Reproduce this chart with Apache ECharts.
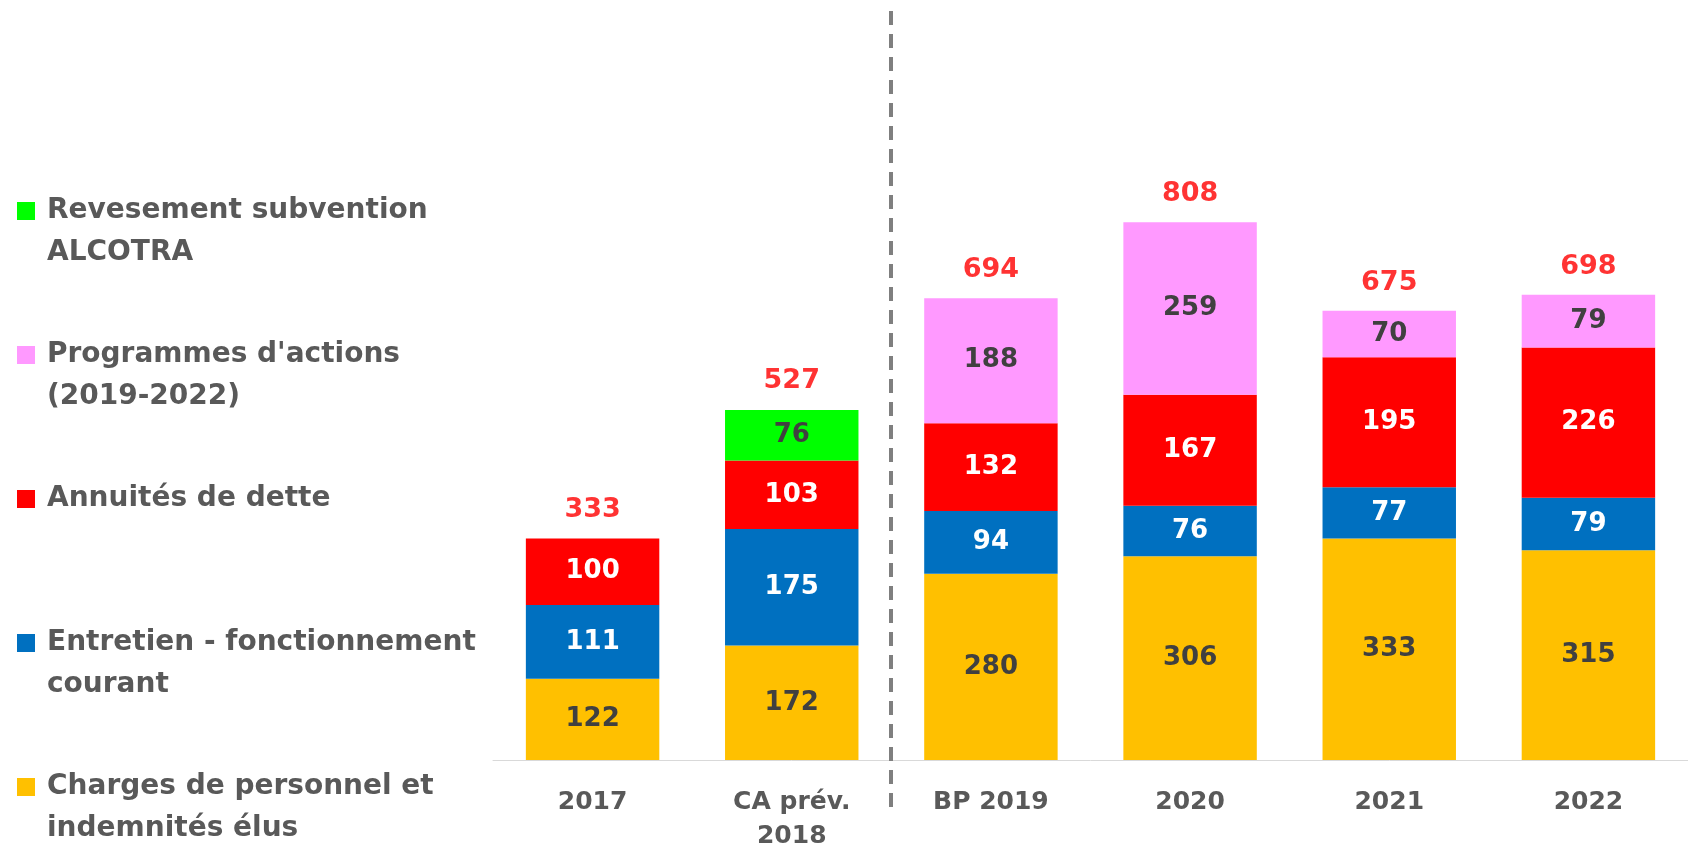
<!DOCTYPE html>
<html>
<head>
<meta charset="utf-8">
<script src="https://cdn.jsdelivr.net/npm/echarts@6/dist/echarts.min.js"></script>
<style>
  html, body { margin: 0; padding: 0; background: #fff; }
  #chart { width: 1688px; height: 853px; }
</style>
</head>
<body>
<div id="chart"></div>
<script>
// categories and values
const categories = ['2017', 'CA prév.\n2018', 'BP 2019', '2020', '2021', '2022']
const charges = [122, 172, 280, 306, 333, 315]
const entretien = [111, 175, 94, 76, 77, 79]
const annuites = [100, 103, 132, 167, 195, 226]
const programmes = [null, null, 188, 259, 70, 79]
const revesement = [null, 76, null, null, null, null]
const totals = [333, 527, 694, 808, 675, 698]

const names = {
  charges: 'Charges de personnel et indemnités élus',
  entretien: 'Entretien - fonctionnement courant',
  annuites: 'Annuités de dette',
  programmes: "Programmes d'actions (2019-2022)",
  revesement: 'Revesement subvention ALCOTRA'
}
// legend text, blank first line keeps the square next to the first line
const legendText = {}
legendText[names.revesement] = ' \nRevesement subvention\nALCOTRA'
legendText[names.programmes] = " \nProgrammes d'actions\n(2019-2022)"
legendText[names.annuites] = ' \nAnnuités de dette\n '
legendText[names.entretien] = ' \nEntretien - fonctionnement\ncourant'
legendText[names.charges] = ' \nCharges de personnel et\nindemnités élus'

const FONT = 'DejaVu Sans'

function barSeries (name, data, color, labelColor) {
  return {
    name: name,
    type: 'bar',
    stack: 'total',
    barWidth: '67%',
    data: data,
    itemStyle: { color: color },
    label: {
      show: true,
      position: 'inside',
      color: labelColor,
      fontFamily: FONT,
      fontWeight: 'bold',
      fontSize: 26
    }
  }
}

const chart = echarts.init(document.getElementById('chart'))
chart.setOption({
  animation: false,
  backgroundColor: '#ffffff',
  grid: { left: 493, right: 0, top: 0, bottom: 91 },
  legend: {
    orient: 'vertical',
    left: 12,
    top: 143,
    height: 780,
    itemWidth: 18,
    itemHeight: 18,
    itemGap: 18,
    icon: 'rect',
    selectedMode: false,
    data: [names.revesement, names.programmes, names.annuites, names.entretien, names.charges],
    formatter: function (name) { return legendText[name] },
    textStyle: {
      fontFamily: FONT,
      fontWeight: 'bold',
      fontSize: 28,
      lineHeight: 42,
      color: '#595959',
      padding: [0, 0, 0, 7]
    }
  },
  xAxis: {
    type: 'category',
    data: categories,
    axisTick: { show: false },
    axisLine: { lineStyle: { color: '#D9D9D9', width: 1 } },
    axisLabel: {
      interval: 0,
      margin: 25,
      color: '#595959',
      fontFamily: FONT,
      fontWeight: 'bold',
      fontSize: 25,
      lineHeight: 34
    }
  },
  yAxis: {
    type: 'value',
    min: 0,
    max: 1142,
    show: false,
    splitLine: { show: false }
  },
  series: [
    barSeries(names.charges, charges, '#FFC000', '#404040'),
    barSeries(names.entretien, entretien, '#0070C0', '#ffffff'),
    barSeries(names.annuites, annuites, '#FF0000', '#ffffff'),
    barSeries(names.programmes, programmes, '#FF99FF', '#404040'),
    barSeries(names.revesement, revesement, '#00FF00', '#404040'),
    {
      name: 'Total',
      type: 'scatter',
      data: totals,
      symbolSize: 1,
      itemStyle: { color: 'rgba(0,0,0,0)' },
      label: {
        show: true,
        position: 'top',
        distance: 14,
        color: '#FF0000',
        fontFamily: FONT,
        fontWeight: 'bold',
        fontSize: 27
      }
    }
  ]
})

// dashed separator between realised years and forecasts
const xa = chart.convertToPixel({ xAxisIndex: 0 }, categories[1])
const xb = chart.convertToPixel({ xAxisIndex: 0 }, categories[2])
const sepX = Math.round((xa + xb) / 2)
chart.setOption({
  graphic: [{
    type: 'line',
    shape: { x1: sepX, y1: 11, x2: sepX, y2: 815 },
    style: { stroke: '#7F7F7F', lineWidth: 4, lineDash: [14, 9] },
    z: 10
  }]
})
</script>
</body>
</html>
